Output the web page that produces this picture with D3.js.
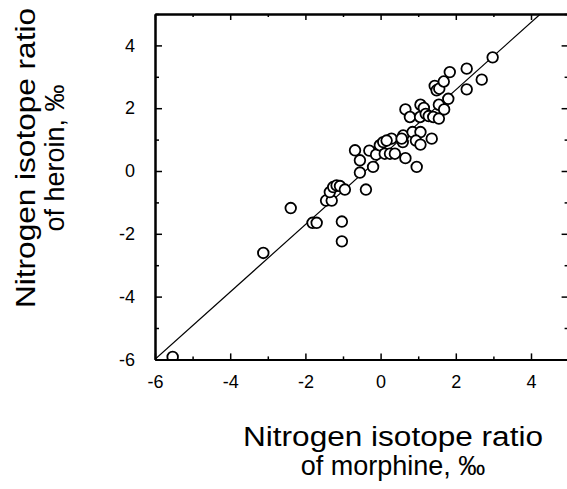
<html>
<head>
    <meta charset="utf-8">
    <title>Nitrogen isotope ratio</title>
    <style>
        body { margin: 0; background: #fff; }
        text { font-family: "Liberation Sans", Arial, Helvetica, sans-serif; fill: #000; }
    </style>
</head>
<body>
<script src="https://cdn.jsdelivr.net/npm/d3@7"></script>
<script>
    // morphine (x) vs heroin (y), per mil
    var morphine = [-5.53, -3.12, -2.39, -1.81, -1.70, -1.03, -1.03,
        -1.45, -1.30, -1.35, -1.26, -1.17, -1.08, -0.95, -0.39,
        -0.68, -0.55, -0.55, -0.30, -0.20, -0.12, -0.02, 0.07, 0.11, 0.25, 0.38, 0.29, 0.16,
        0.59, 0.60, 0.56, 0.66, 0.96, 0.85, 1.06, 0.94, 1.06, 1.36,
        0.66, 0.78, 1.06, 1.15, 1.05, 1.20, 1.28, 1.40, 1.55, 1.55, 1.69, 1.80,
        1.44, 1.49, 1.56, 1.68, 1.84, 2.29, 2.29, 2.69, 2.98];
    var heroin = [-5.92, -2.61, -1.18, -1.65, -1.65, -1.61, -2.24,
        -0.94, -0.94, -0.67, -0.51, -0.46, -0.48, -0.59, -0.59,
        0.66, 0.34, -0.05, 0.65, 0.13, 0.52, 0.82, 0.92, 0.55, 0.55, 0.55, 1.03, 0.97,
        0.92, 1.13, 1.03, 0.41, 0.13, 1.24, 1.24, 0.97, 0.84, 1.03,
        1.96, 1.72, 2.11, 2.01, 1.72, 1.82, 1.75, 1.72, 1.67, 2.11, 1.96, 2.30,
        2.71, 2.57, 2.62, 2.85, 3.15, 3.26, 2.60, 2.91, 3.62];
    var majorTicks = [-6, -4, -2, 0, 2, 4];
    var minorTicks = [-5, -3, -1, 1, 3, 5];
    var fitSlope = 1.073;
    var fitIntercept = 0.44;
    var xTitle = ["Nitrogen isotope ratio", "of morphine, \u2030"];
    var yTitle = ["Nitrogen isotope ratio", "of heroin, \u2030"];

    var width = 567, height = 489;
    var marginLeft = 155, marginTop = 14, plotW = 413.6, plotH = 345.4;

    var svg = d3.select("body").append("svg")
        .attr("width", width)
        .attr("height", height);

    var x = d3.scaleLinear().domain([-6, 5]).range([0, plotW]);
    var y = d3.scaleLinear().domain([-6, 5]).range([plotH, 0]);

    svg.append("clipPath").attr("id", "plotclip")
        .append("rect").attr("width", plotW).attr("height", plotH);

    var g = svg.append("g").attr("transform", "translate(" + marginLeft + "," + marginTop + ")");

    var plain = function (d) { return String(d); };   // hyphen minus like the original

    // axes, ticks pointing inward
    function styleAxis(sel) {
        sel.select(".domain").attr("stroke", "#000").attr("stroke-width", 2);
        sel.selectAll(".tick line").attr("stroke", "#000").attr("stroke-width", 1.5);
        sel.selectAll("text").attr("font-size", 18).attr("fill", "#000")
            .style("font-family", '"Liberation Sans", Arial, sans-serif');
    }

    // fitted line and points first, axes drawn over them
    var plot = g.append("g").attr("clip-path", "url(#plotclip)");

    var x0 = -6, x1 = (5 - fitIntercept) / fitSlope;
    plot.append("line")
        .attr("x1", x(x0)).attr("y1", y(fitIntercept + fitSlope * x0))
        .attr("x2", x(x1)).attr("y2", y(fitIntercept + fitSlope * x1))
        .attr("stroke", "#000")
        .attr("stroke-width", 1.2);

    var points = morphine.map(function (d, i) { return [d, heroin[i]]; });
    plot.selectAll("circle")
        .data(points)
        .enter()
        .append("circle")
        .attr("cx", function (d) { return x(d[0]); })
        .attr("cy", function (d) { return y(d[1]); })
        .attr("r", 5.3)
        .attr("fill", "#fff")
        .attr("stroke", "#000")
        .attr("stroke-width", 1.8);

    g.append("g").attr("transform", "translate(0," + plotH + ")")
        .call(d3.axisBottom(x).tickValues(majorTicks).tickSizeInner(-6).tickSizeOuter(0).tickPadding(16).tickFormat(plain))
        .call(styleAxis);
    g.append("g").attr("transform", "translate(0," + plotH + ")")
        .call(d3.axisBottom(x).tickValues(minorTicks).tickSizeInner(-3).tickSizeOuter(0).tickFormat(""))
        .call(styleAxis);
    g.append("g")
        .call(d3.axisTop(x).tickValues(majorTicks).tickSizeInner(-6).tickSizeOuter(0).tickFormat(""))
        .call(styleAxis);
    g.append("g")
        .call(d3.axisTop(x).tickValues(minorTicks).tickSizeInner(-3).tickSizeOuter(0).tickFormat(""))
        .call(styleAxis);

    g.append("g")
        .call(d3.axisLeft(y).tickValues(majorTicks).tickSizeInner(-7).tickSizeOuter(0).tickPadding(20).tickFormat(plain))
        .call(styleAxis);
    g.append("g")
        .call(d3.axisLeft(y).tickValues(minorTicks).tickSizeInner(-4).tickSizeOuter(0).tickFormat(""))
        .call(styleAxis);
    g.append("g").attr("transform", "translate(" + plotW + ",0)")
        .call(d3.axisRight(y).tickValues(majorTicks).tickSizeInner(-7).tickSizeOuter(0).tickFormat(""))
        .call(styleAxis);
    g.append("g").attr("transform", "translate(" + plotW + ",0)")
        .call(d3.axisRight(y).tickValues(minorTicks).tickSizeInner(-4).tickSizeOuter(0).tickFormat(""))
        .call(styleAxis);

    // axis titles (first line of each is set a little wider, as in the original)
    svg.append("text")
        .attr("text-anchor", "middle")
        .attr("font-size", 27)
        .selectAll("tspan")
        .data(xTitle)
        .enter()
        .append("tspan")
        .attr("x", 393)
        .attr("y", function (d, i) { return 446 + i * 29; })
        .text(function (d) { return d; });

    svg.append("text")
        .attr("text-anchor", "middle")
        .attr("font-size", 27)
        .attr("transform", "rotate(-90)")
        .selectAll("tspan")
        .data(yTitle)
        .enter()
        .append("tspan")
        .attr("x", -158)
        .attr("y", function (d, i) { return 35 + i * 29; })
        .text(function (d) { return d; });

    svg.selectAll("text tspan")
        .filter(function (d, i) { return d === xTitle[0]; })
        .attr("textLength", 300)
        .attr("lengthAdjust", "spacingAndGlyphs");
</script>
</body>
</html>
